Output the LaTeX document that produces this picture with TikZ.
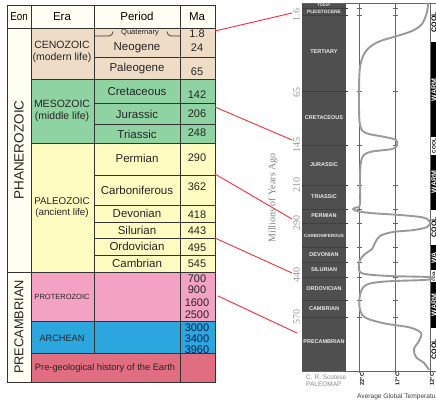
\documentclass[tikz,border=0pt]{standalone}
\usepackage{fontspec}
\setmainfont{Liberation Sans}
\newfontfamily\axisserif{Liberation Serif}
\definecolor{ceno}{HTML}{EFDCC6}
\definecolor{meso}{HTML}{8FD3A3}
\definecolor{paleo}{HTML}{FFFCC2}
\definecolor{protero}{HTML}{F3A2C4}
\definecolor{archc}{HTML}{2BA6DE}
\definecolor{pregeo}{HTML}{E06D80}
\definecolor{eonbg}{HTML}{FFFEF2}
\definecolor{darkcol}{HTML}{4F4F4F}
\definecolor{curvegray}{HTML}{9A9A9A}
\definecolor{redline}{HTML}{F0303A}
\definecolor{axgray}{HTML}{999999}
\definecolor{navy}{HTML}{102050}
\begin{document}
\begin{tikzpicture}[x=1pt,y=-1pt,
  tl/.style={draw=black!80,line width=0.8pt},
  hd/.style={font=\fontsize{11.5}{12}\selectfont,inner sep=0pt},
  per/.style={font=\fontsize{11.5}{12}\selectfont,inner sep=0pt,text=black!85},
  ma/.style={font=\fontsize{11}{11}\selectfont,inner sep=0pt,text=black!85},
  era/.style={font=\fontsize{10.5}{11.5}\selectfont,inner sep=0pt,align=center,text=black!85},
  dk/.style={font=\fontsize{5.5}{6}\bfseries\selectfont,text=white!92!black,inner sep=0pt},
  axl/.style={font=\axisserif\fontsize{10}{10}\selectfont,text=axgray,rotate=90,inner sep=0pt},
  barw/.style={font=\fontsize{7}{7}\bfseries\selectfont,text=white,rotate=90,inner sep=0pt},
  barc/.style={font=\fontsize{7}{7}\bfseries\selectfont,text=black,rotate=90,inner sep=0pt},
  redc/.style={draw=redline,line width=0.9pt},
  gl/.style={draw=black!60,line width=0.6pt},
  tk/.style={font=\fontsize{5.5}{6}\bfseries\selectfont,rotate=90,inner sep=0pt}]
\clip (0,0) rectangle (436,407);
\fill[white] (0,0) rectangle (436,407);
% ---------- left table ----------
\fill[eonbg] (7,5) rectangle (215,28);
\fill[eonbg] (7,28) rectangle (31,382);
\fill[ceno] (31,28) rectangle (215,79);
\fill[meso] (31,79) rectangle (215,143);
\fill[paleo] (31,143) rectangle (215,272);
\fill[protero] (31,272) rectangle (215,321);
\fill[archc] (31,321) rectangle (215,353);
\fill[pregeo] (31,353) rectangle (215,382);
\draw[tl] (7,5) rectangle (215,382);
\draw[tl] (31,5)--(31,382) (94,5)--(94,353) (180,5)--(180,382);
\draw[tl] (7,28)--(215,28) (31,79)--(215,79) (31,143)--(215,143)
          (7,272)--(215,272) (31,321)--(215,321) (31,353)--(215,353);
\foreach \yy in {57,103,124,175,205,222,238,255} \draw[tl] (94,\yy)--(215,\yy);
\draw[tl,line width=0.7pt] (94,36) -- (109,36) to[out=0,in=-90] (113,31.5);
\draw[tl,line width=0.7pt] (180,36) -- (171,36) to[out=180,in=-90] (167,31.5);
% headers
\node[hd] (hEon) at (19,16.5) {\scalebox{0.85}[1]{Eon}};
\node[hd] (hEra) at (62,16.5) {Era};
\node[hd] (hPer) at (137,16.5) {Period};
\node[hd] (hMa) at (197,16.5) {Ma};
% eons
\node[rotate=90,font=\fontsize{13.5}{14}\selectfont,inner sep=0pt,text=black!85] (phan) at (19,150) {PHANEROZOIC};
\node[rotate=90,font=\fontsize{12.8}{14}\selectfont,inner sep=0pt,text=black!85] (prec) at (19,327) {PRECAMBRIAN};
% eras
\node[era] (cen) at (62,52) {CENOZOIC\\(modern life)};
\node[era] (mes) at (62,111) {MESOZOIC\\(middle life)};
\node[era,font=\fontsize{9.8}{11}\selectfont] (pal) at (62,208) {PALEOZOIC\\(ancient life)};
\node[era,font=\fontsize{7.5}{8}\selectfont] (pro) at (62,297) {PROTEROZOIC};
\node[era,font=\fontsize{9.2}{10}\selectfont] (arc) at (62,338) {ARCHEAN};
\node[era,font=\fontsize{9.3}{10}\selectfont] (pre) at (105,368) {Pre-geological history of the Earth};
% periods
\node[per,font=\fontsize{7.5}{8}\selectfont] (pq) at (140,33) {Quaternary};
\node[per] (pn) at (137,48) {Neogene};
\node[per] (pp) at (137,68.5) {Paleogene};
\node[per] (pc) at (137,92) {Cretaceous};
\node[per] (pj) at (137,114) {Jurassic};
\node[per] (pt) at (137,134) {Triassic};
\node[per] (ppe) at (137,158.5) {Permian};
\node[per] (pca) at (137,190) {Carboniferous};
\node[per] (pd) at (137,213.5) {Devonian};
\node[per] (ps) at (137,230) {Silurian};
\node[per] (po) at (137,246.5) {Ordovician};
\node[per] (pcm) at (137,263.5) {Cambrian};
% Ma
\node[ma] (m1) at (197,34) {1.8};
\node[ma] (m2) at (197,48) {24};
\node[ma] (m3) at (197,72) {65};
\node[ma] (m4) at (197,95) {142};
\node[ma] (m5) at (197,114) {206};
\node[ma] (m6) at (197,132.5) {248};
\node[ma] (m7) at (197,158) {290};
\node[ma] (m8) at (197,187) {362};
\node[ma] (m9) at (197,215) {418};
\node[ma] (m10) at (197,230.5) {443};
\node[ma] (m11) at (197,248) {495};
\node[ma] (m12) at (197,264) {545};
\node[ma] (m13) at (197,278.5) {700};
\node[ma] (m14) at (197,290) {900};
\node[ma] (m15) at (197,302.5) {1600};
\node[ma] (m16) at (197,315) {2500};
\node[ma,text=navy] (m17) at (197,327.5) {3000};
\node[ma,text=navy] (m18) at (197,339) {3400};
\node[ma,text=navy] (m19) at (197,349.5) {3960};
% ---------- right chart ----------
\fill[darkcol] (302,3) rectangle (346,371);
\foreach \yy in {8,15,91,145,185,209,223,247,262,277,300,317}{
  \draw[black!75,line width=0.7pt] (302,\yy)--(348,\yy);
  \draw[gl] (356.5,\yy)--(361.5,\yy) (392.5,\yy)--(397.5,\yy);}
% cool/warm bar
\fill[black] (430,42) rectangle (437,137);
\fill[black] (430,155) rectangle (437,210);
\fill[black] (430,245) rectangle (437,270);
\fill[black] (430,282) rectangle (437,328);
\draw[gl] (302,3)--(436,3) (302,371)--(436,371);
\draw[gl] (359,3)--(359,373) (395,3)--(395,373) (430,3)--(430,373);
\node[barc] (c1) at (434,22) {COOL};
\node[barw] (w1) at (434,90) {WARM};
\node[barc,font=\fontsize{5}{5}\bfseries\selectfont] (c2) at (434,146) {COOL};
\node[barw] (w2) at (434,182) {WARM};
\node[barc] (c3) at (434,227) {COOL};
\node[barw] (w3) at (434,258) {WA};
\node[barc,font=\fontsize{3.5}{4}\bfseries\selectfont] (c4) at (434,276) {COOL};
\node[barw] (w4) at (434,305) {WARM};
\node[barc] (c5) at (434,349) {COOL};
% temperature curve
\draw[curvegray,line width=1.9pt,line join=round] plot[smooth,tension=0.55] coordinates {
 (428,3) (427,12) (422,24) (412,31) (397,36) (378,42) (366,51) (360,67) (359,100) (360,125)
 (366,133) (385,137) (396,140) (397,145) (392,149) (370,152) (362,158) (360,175) (360,204)
 (356,207.5) (353,209) (357,211) (370,213) (400,215) (423,217.5) (430,222) (427,227)
 (414,230) (393,232) (380,236) (375,243) (372,249) (365,254) (360,260) (359,270)
 (365,274) (390,276) (429,277) (432,278.5) (424,280) (385,281.5) (366,285) (360,295)
 (360,310) (366,318) (385,323.5) (410,327.5) (421,333) (419,341) (414,349) (416,357)
 (424,363) (429,370)};
% dark column labels
\node[dk,font=\fontsize{3.8}{4}\bfseries\selectfont] (lt) at (324,5.5) {TODAY};
\node[dk,font=\fontsize{4.8}{5}\bfseries\selectfont] (lp) at (324,11.5) {PLEISTOCENE};
\node[dk] (lte) at (324,52) {TERTIARY};
\node[dk] (lcr) at (324,118) {CRETACEOUS};
\node[dk] (lju) at (324,165) {JURASSIC};
\node[dk] (ltr) at (324,197) {TRIASSIC};
\node[dk] (lpe) at (324,216) {PERMIAN};
\node[dk,font=\fontsize{4.5}{5}\bfseries\selectfont] (lca) at (324,235.5) {CARBONIFEROUS};
\node[dk] (lde) at (324,255) {DEVONIAN};
\node[dk] (lsi) at (324,270) {SILURIAN};
\node[dk] (lor) at (324,289) {ORDOVICIAN};
\node[dk] (lcm) at (324,308.5) {CAMBRIAN};
\node[dk] (lpr) at (324,342) {PRECAMBRIAN};
% axis labels
\node[axl] (a1) at (296.5,15) {1.6};
\node[axl] (a2) at (296.5,92) {65};
\node[axl] (a3) at (296.5,145) {145};
\node[axl] (a4) at (296.5,185) {210};
\node[axl] (a5) at (296.5,223) {290};
\node[axl] (a6) at (296.5,275) {440};
\node[axl] (a7) at (296.5,317) {570};
\node[axl,text=black!50] (myl) at (273,198) {Millions of Years Ago};
% bottom labels
\node[font=\fontsize{6.5}{7.5}\selectfont,text=black!45,align=left,inner sep=0pt,anchor=north west] (src) at (306,374.5) {C. R. Scotese\\PALEOMAP};
\node[tk] (t22) at (362,379) {22°C};
\node[tk] (t17) at (397.5,379) {17°C};
\node[tk] (t12) at (432,379) {12°C};
\node[font=\fontsize{6.6}{7}\selectfont,text=black!75,anchor=west,inner sep=0pt] (agt) at (357,397) {Average Global Temperature};
% red connectors
\coordinate (ra1) at (215,31);  \coordinate (rb1) at (292,13);
\coordinate (ra2) at (215,107); \coordinate (rb2) at (292,140);
\coordinate (ra3) at (215,174); \coordinate (rb3) at (292,219);
\coordinate (ra4) at (215,238); \coordinate (rb4) at (292,273);
\coordinate (ra5) at (218,296); \coordinate (rb5) at (297,333);
\draw[redc] (ra1)--(rb1) (ra2)--(rb2) (ra3)--(rb3) (ra4)--(rb4) (ra5)--(rb5);
\end{tikzpicture}
\end{document}
